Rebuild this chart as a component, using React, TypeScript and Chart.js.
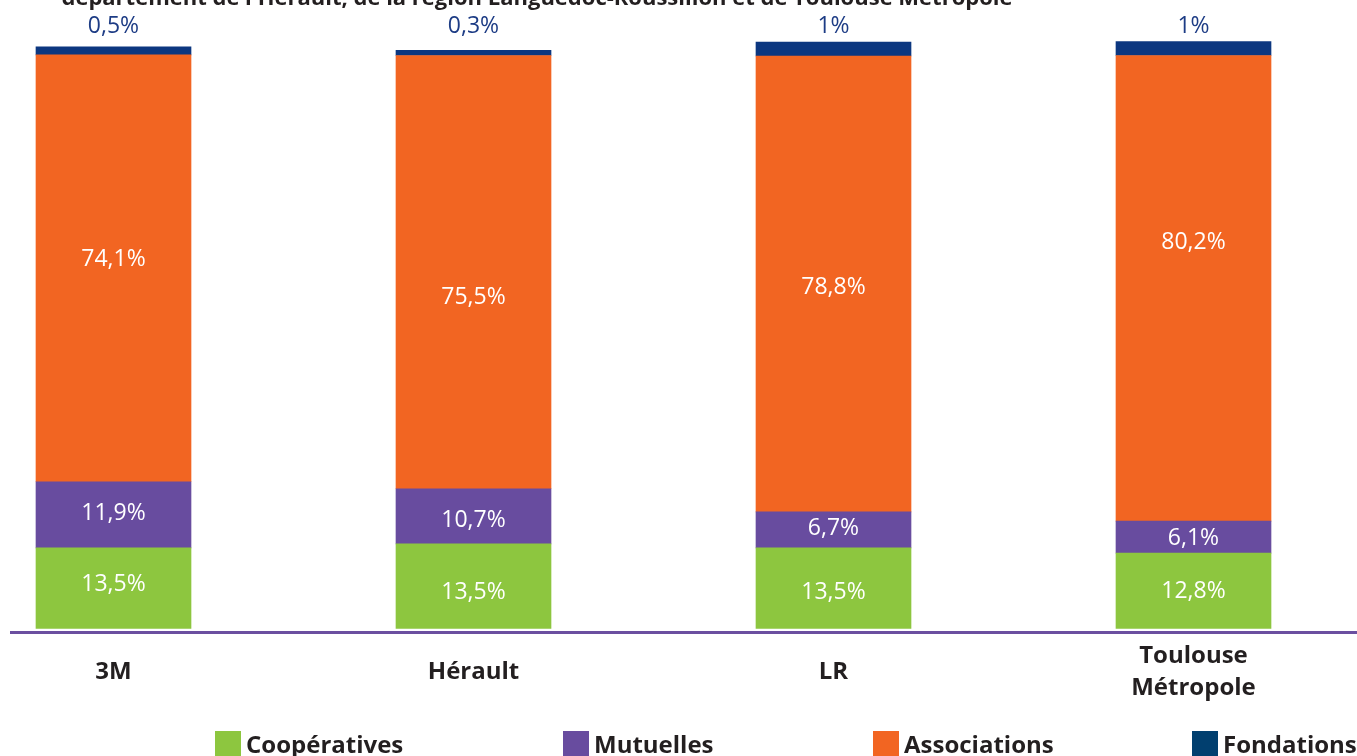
import React, { useEffect, useRef } from 'react';
import { Chart, registerables } from 'chart.js';

Chart.register(...registerables);

// ---- Data ----
const categories: string[][] = [['3M'], ['Hérault'], ['LR'], ['Toulouse', 'Métropole']];
const seriesNames = ['Coopératives', 'Mutuelles', 'Associations', 'Fondations'];
// segment heights as drawn in the picture (percent)
const cooperatives = [13.9, 14.6, 13.9, 13.0];
const mutuelles = [11.4, 9.5, 6.2, 5.5];
const associations = [73.6, 74.7, 78.6, 80.3];
const fondations = [1.4, 0.9, 2.4, 2.4];
// printed labels
const cooperativesLabels = ['13,5%', '13,5%', '13,5%', '12,8%'];
const mutuellesLabels = ['11,9%', '10,7%', '6,7%', '6,1%'];
const associationsLabels = ['74,1%', '75,5%', '78,8%', '80,2%'];
const fondationsLabels = ['0,5%', '0,3%', '1%', '1%'];
const titleText = "département de l'Hérault, de la région Languedoc-Roussillon et de Toulouse Métropole";

// ---- Styles / layout ----
const W = 1357;
const H = 756;
const colors = ['#8dc63f', '#684c9f', '#f26522', '#0c3780'];
const legendColors = ['#8dc63f', '#684c9f', '#f26522', '#013f6f'];
const legendX = [215, 563, 873, 1192];
const labelShifts = [
  [-5, 5, 3, 0],
  [-2, 3, -2, 0],
  [-9.5, 24.5, 2, -47],
];
const FONT = '"Open Sans", "Noto Sans", sans-serif';
const DARK = '#231f20';

const decorPlugin = {
  id: 'decor',
  afterDatasetsDraw(chart: any) {
    const ctx = chart.ctx;
    ctx.save();
    ctx.textAlign = 'center';
    ctx.textBaseline = 'middle';
    ctx.font = `23px ${FONT}`;
    const inner = [cooperativesLabels, mutuellesLabels, associationsLabels];
    for (let d = 0; d < 3; d++) {
      const meta = chart.getDatasetMeta(d);
      meta.data.forEach((el: any, i: number) => {
        const top = Math.min(el.y, el.base);
        const bot = Math.max(el.y, el.base);
        const y = (top + bot) / 2 + labelShifts[d][i];
        ctx.fillStyle = '#ffffff';
        ctx.fillText(inner[d][i], el.x, y + 1);
      });
    }
    const metaTop = chart.getDatasetMeta(3);
    ctx.fillStyle = '#1d3c85';
    metaTop.data.forEach((el: any, i: number) => {
      ctx.fillText(fondationsLabels[i], el.x, 26);
    });
    ctx.restore();
  },
  afterDraw(chart: any) {
    const ctx = chart.ctx;
    ctx.save();
    // title (cut at top)
    ctx.fillStyle = DARK;
    ctx.font = `bold 22px ${FONT}`;
    ctx.textAlign = 'center';
    ctx.textBaseline = 'alphabetic';
    ctx.fillText(titleText, 537, 5);
    // baseline rule
    ctx.strokeStyle = '#6b4fa0';
    ctx.lineWidth = 3;
    ctx.beginPath();
    ctx.moveTo(10, 632.5);
    ctx.lineTo(W, 632.5);
    ctx.stroke();
    // legend
    ctx.textAlign = 'left';
    ctx.font = `bold 24px ${FONT}`;
    seriesNames.forEach((name, i) => {
      ctx.fillStyle = legendColors[i];
      ctx.fillRect(legendX[i], 731, 26, 26);
      ctx.fillStyle = DARK;
      ctx.fillText(name, legendX[i] + 31, 753);
    });
    ctx.restore();
  },
};

export default function App() {
  const ref = useRef<HTMLCanvasElement | null>(null);
  useEffect(() => {
    document.body.style.margin = '0';
    document.body.style.overflow = 'hidden';
    const canvas = ref.current;
    if (!canvas) return;
    const series = [cooperatives, mutuelles, associations, fondations];
    const chart = new Chart(canvas, {
      type: 'bar',
      data: {
        labels: categories as any,
        datasets: series.map((vals, i) => ({
          label: seriesNames[i],
          data: vals,
          backgroundColor: colors[i],
          borderWidth: 0,
          barThickness: 155,
          clip: false as any,
        })),
      },
      options: {
        responsive: false,
        animation: false,
        devicePixelRatio: 1,
        layout: { padding: { left: 113.5, right: W - 1193.5, top: 48.5, bottom: 0 } },
        plugins: {
          legend: { display: false },
          tooltip: { enabled: false },
          title: { display: false },
        },
        scales: {
          x: {
            stacked: true,
            offset: false,
            grid: { display: false, drawTicks: false },
            border: { display: false },
            ticks: {
              autoSkip: false,
              maxRotation: 0,
              minRotation: 0,
              padding: 27.5,
              crossAlign: 'center',
              color: DARK,
              font: { family: FONT, size: 24, weight: 'bold', lineHeight: 32 / 24 },
            },
            afterFit: (scale: any) => {
              scale.height = H - 628.5;
            },
          },
          y: {
            stacked: true,
            display: false,
            min: 0,
            max: 100,
          },
        },
      },
      plugins: [decorPlugin],
    });
    return () => chart.destroy();
  }, []);
  return (
    <div style={{ width: W, height: H, position: 'relative' }}>
      <canvas ref={ref} width={W} height={H} style={{ display: 'block' }} />
    </div>
  );
}
